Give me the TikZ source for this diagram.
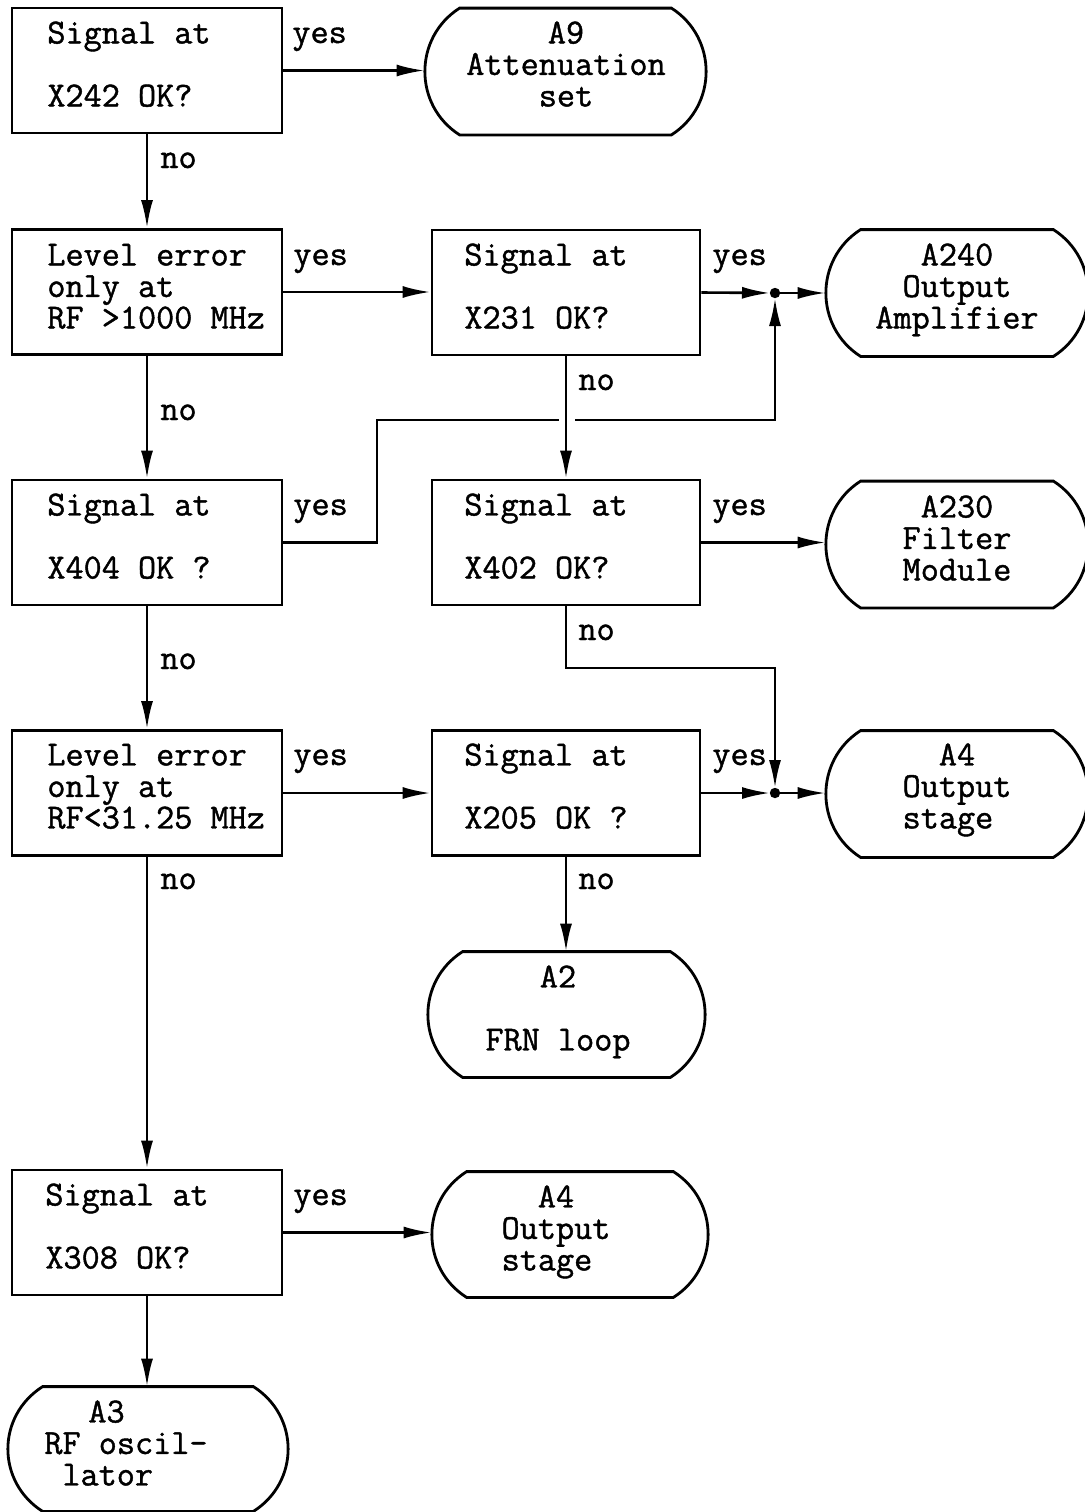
\documentclass[tikz,border=0pt]{standalone}
\usepackage{fontspec}
\newfontfamily\twfam{Latin Modern Mono}[FakeBold=1.2]
\usetikzlibrary{arrows.meta}
\newcommand\tw{\twfam\fontsize{17.6pt}{15.75pt}\selectfont}
\newcommand\termline[1]{%
  \draw[line width=1.4pt] ([xshift=17.5pt]#1.north west) -- ([xshift=-17.5pt]#1.north east)
   .. controls +(23.15pt,-14.75pt) and +(23.15pt,14.75pt) .. ([xshift=-17.5pt]#1.south east)
   -- ([xshift=17.5pt]#1.south west)
   .. controls +(-23.15pt,14.75pt) and +(-23.15pt,-14.75pt) .. ([xshift=17.5pt]#1.north west) -- cycle;}
\tikzset{
  box/.style={draw, line width=1.4pt, rectangle, inner sep=0pt, minimum width=135pt, minimum height=62.5pt},
  term/.style={rectangle, inner sep=0pt, draw=none, minimum height=63pt},
  txt/.style={inner sep=0pt, anchor=north west, align=left, font=\tw},
  ctxt/.style={inner sep=0pt, anchor=north, align=center, font=\tw},
  lab/.style={inner sep=0pt, anchor=base west, font=\tw},
  conn/.style={line width=1.3pt},
  arr/.style={line width=1.3pt, -{Latex[length=14pt,width=6pt]}},
}
\begin{document}
\begin{tikzpicture}[x=0.5pt,y=-0.5pt]
\useasboundingbox (0,0) rectangle (1084,1512);
% decision boxes
\node[box] (L1) at (147,70.5) {};
\node[box] (L2) at (147,292) {};
\node[box] (L3) at (147,542.5) {};
\node[box] (L4) at (147,793) {};
\node[box] (L5) at (147,1232.5) {};
\node[box, minimum width=134pt] (M1) at (566,292.5) {};
\node[box, minimum width=134pt] (M2) at (566,542.5) {};
\node[box, minimum width=134pt] (M3) at (566,793) {};
% box texts
\node[txt] (L1t) at (47,21) {\strut Signal at\\\strut\\\strut X242 OK?};
\node[txt] (L2t) at (47,243) {\strut Level error\\\strut only at\\\strut RF >1000 MHz};
\node[txt] (L3t) at (47,493) {\strut Signal at\\\strut\\\strut X404 OK ?};
\node[txt] (L4t) at (47,743) {\strut Level error\\\strut only at\\\strut RF<31.25 MHz};
\node[txt] (L5t) at (45,1183) {\strut Signal at\\\strut\\\strut X308 OK?};
\node[txt] (M1t) at (464,243) {\strut Signal at\\\strut\\\strut X231 OK?};
\node[txt] (M2t) at (464,493) {\strut Signal at\\\strut\\\strut X402 OK?};
\node[txt] (M3t) at (464,743) {\strut Signal at\\\strut\\\strut X205 OK ?};
% terminals
\node[term, minimum width=140.5pt] (A9) at (565.5,71.5) {};
\node[term, minimum width=131pt] (A240) at (957,293) {};
\node[term, minimum width=131pt] (A230) at (957,544.5) {};
\node[term, minimum width=131pt] (A4r) at (957,794) {};
\node[term, minimum width=138.5pt, minimum height=62.5pt] (A2) at (566.5,1014.5) {};
\node[term, minimum width=138pt, minimum height=62.5pt] (A4b) at (570,1234.5) {};
\node[term, minimum width=140pt, minimum height=62pt] (A3) at (148,1449) {};
\termline{A9}\termline{A240}\termline{A230}\termline{A4r}
\termline{A2}\termline{A4b}\termline{A3}
% terminal texts
\node[ctxt] (A9t) at (566,21) {\strut A9\\\strut Attenuation\\\strut set};
\node[ctxt] (A240t) at (957,243) {\strut A240\\\strut Output\\\strut Amplifier};
\node[ctxt] (A230t) at (957,495) {\strut A230\\\strut Filter\\\strut Module};
\node[ctxt] (A4rt) at (957,743) {\strut A4\\\strut Output\\\strut stage\hphantom{x}};
\node[ctxt] (A2t) at (558,965) {\strut A2\\\strut\\\strut FRN loop};
\node[ctxt] (A4bt) at (556,1185) {\strut A4\\\strut Output\\\strut stage\hphantom{x}};
\node[txt] (A3t) at (44,1400) {\strut\hspace{22pt}A3\\\strut RF oscil-\\\strut\hspace{9pt}lator};
% yes / no labels
\node[lab] (y1) at (292,43) {yes};
\node[lab] (y2) at (293,265) {yes};
\node[lab] (y3) at (293,515) {yes};
\node[lab] (y4) at (293,765) {yes};
\node[lab] (y5) at (293,1205) {yes};
\node[lab] (y6) at (712,265) {yes};
\node[lab] (y7) at (712,515) {yes};
\node[lab] (y8) at (712,765) {yes};
\node[lab] (n1) at (160,168) {no};
\node[lab] (n2) at (160,420) {no};
\node[lab] (n3) at (160,669) {no};
\node[lab] (n4) at (160,889) {no};
\node[lab] (n5) at (578,390) {no};
\node[lab] (n6) at (578,640) {no};
\node[lab] (n7) at (578,889) {no};
% junctions and bends
\coordinate (J1) at (775,293);
\coordinate (J2) at (775,793);
\coordinate (B1) at (377,542.5);
\coordinate (B2) at (377,420);
\coordinate (G1) at (559,420);
\coordinate (G2) at (575,420);
\coordinate (B3) at (775,420);
\coordinate (B4) at (566,668);
\coordinate (B5) at (775,668);
% connectors
\draw[arr] (L1) -- (L2);
\draw[arr] (L2) -- (L3);
\draw[arr] (L3) -- (L4);
\draw[arr] (L4) -- (L5);
\draw[arr] (L5.south) -- (L5.south |- A3.north);
\draw[arr] (L1.east) -- (L1.east -| A9.west);
\draw[arr] (L2.east) -- (L2.east -| M1.west);
\draw[arr] (L4.east) -- (L4.east -| M3.west);
\draw[arr] (L5.east) -- (L5.east -| A4b.west);
\draw[arr] (M1) -- (M2);
\draw[arr] (M3.south) -- (M3.south |- A2.north);
\draw[arr] (M2.east) -- (M2.east -| A230.west);
\draw[arr, shorten >=2.5pt] (M1.east) -- (J1);
\draw[arr] (J1) -- (J1 -| A240.west);
\draw[conn] (L3.east) -- (B1) -- (B2) -- (G1);
\draw[arr, shorten >=2.5pt] (G2) -- (B3) -- (J1);
\draw[arr, shorten >=2.5pt] (M2.south) -- (B4) -- (B5) -- (J2);
\draw[arr, shorten >=2.5pt] (M3.east) -- (J2);
\draw[arr] (J2) -- (J2 -| A4r.west);
\fill (J1) circle (2.6pt);
\fill (J2) circle (2.6pt);
\end{tikzpicture}
\end{document}
